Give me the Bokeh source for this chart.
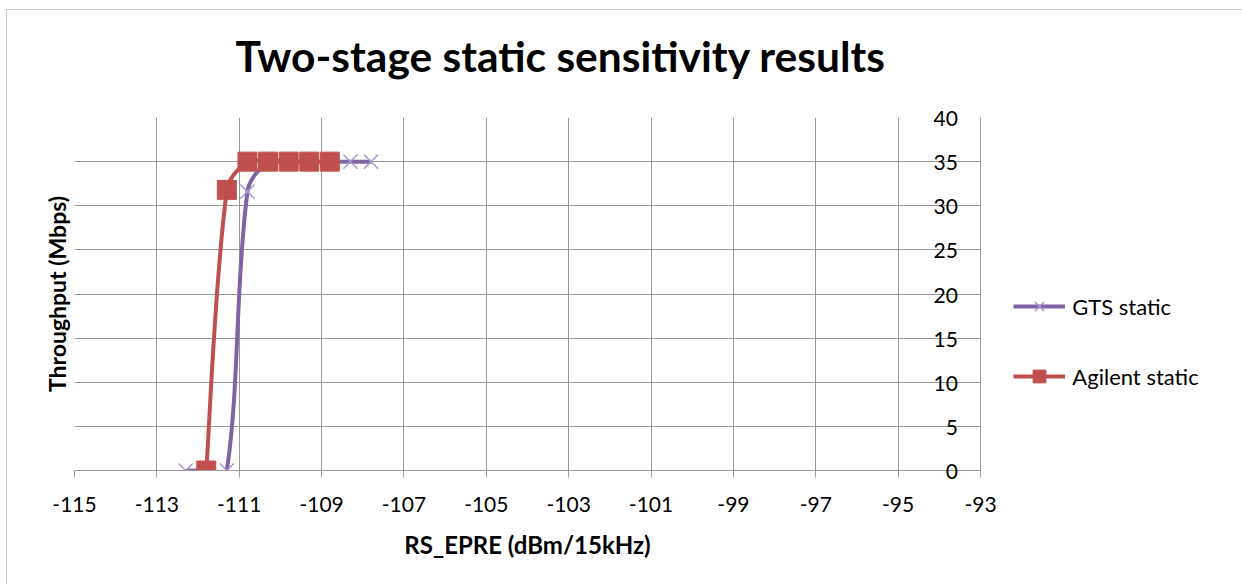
import math
from bokeh.plotting import figure
from bokeh.models import LinearAxis, Range1d, FixedTicker, Legend, LegendItem, CustomJSTickFormatter
from bokeh.embed import file_html
from bokeh.resources import INLINE

# ---- data ----
gts_x = [-112.3, -111.8, -111.3, -110.8, -110.3, -109.8, -109.3, -108.8, -108.3, -107.8]
gts_y = [0, 0, 0, 31.6, 35, 35, 35, 35, 35, 35]
agilent_x = [-111.8, -111.3, -110.8, -110.3, -109.8, -109.3, -108.8]
agilent_y = [0, 31.8, 35, 35, 35, 35, 35]
x_ticks = list(range(-115, -92, 2))
y_ticks = list(range(0, 41, 5))
series_names = ["GTS static", "Agilent static"]

FONT = "Lato"
PURPLE = "#7F63A2"
PURPLE_LIGHT = "#A897CF"
RED = "#C0504D"
GRID = "#999999"

FW, FH = 906, 353
X0, X1, Y0, Y1 = -115, -93, 0, 40
PX = FW / (X1 - X0)
PY = FH / (Y1 - Y0)


def smooth_segments(xs, ys, s=1 / 3):
    """Excel-like smoothed line as cubic Bezier segments (control points from the data)."""
    n = len(xs)

    def dist(i, j):
        return math.hypot((xs[j] - xs[i]) * PX, (ys[j] - ys[i]) * PY)

    before, after = [], []
    for i in range(n):
        if i == 0:
            tx, ty = xs[1] - xs[0], ys[1] - ys[0]
            before.append((xs[i], ys[i]))
            after.append((xs[i] + tx * s * 0.5, ys[i] + ty * s * 0.5))
        elif i == n - 1:
            tx, ty = xs[i] - xs[i - 1], ys[i] - ys[i - 1]
            before.append((xs[i] - tx * s * 0.5, ys[i] - ty * s * 0.5))
            after.append((xs[i], ys[i]))
        else:
            a, b = dist(i - 1, i), dist(i, i + 1)
            tx, ty = xs[i + 1] - xs[i - 1], ys[i + 1] - ys[i - 1]
            before.append((xs[i] - tx * s * a / (a + b), ys[i] - ty * s * a / (a + b)))
            after.append((xs[i] + tx * s * b / (a + b), ys[i] + ty * s * b / (a + b)))
    seg = dict(x0=[], y0=[], x1=[], y1=[], cx0=[], cy0=[], cx1=[], cy1=[])
    for i in range(n - 1):
        seg["x0"].append(xs[i]); seg["y0"].append(ys[i])
        seg["x1"].append(xs[i + 1]); seg["y1"].append(ys[i + 1])
        seg["cx0"].append(after[i][0]); seg["cy0"].append(after[i][1])
        seg["cx1"].append(before[i + 1][0]); seg["cy1"].append(before[i + 1][1])
    return seg


p = figure(
    frame_width=FW, frame_height=FH,
    min_border_left=67, min_border_right=253, min_border_top=107, min_border_bottom=114,
    x_range=Range1d(X0, X1), y_range=Range1d(Y0, Y1),
    y_axis_location="right",
    output_backend="svg", toolbar_location=None,
    title="Two-stage static sensitivity results",
)
p.styles = {"border-left": "1px solid #c8c8c8", "border-top": "1px solid #c8c8c8",
            "margin-left": "6px", "margin-top": "9px"}
p.outline_line_color = None
p.background_fill_color = "white"
p.border_fill_color = "white"

xa = p.below[0]
ya = p.right[0]

# title
p.title.text_font = FONT
p.title.text_font_style = "bold"
p.title.text_font_size = "42.5px"
p.title.align = "left"
p.title.offset = 161
p.title.standoff = 10
p.title.text_color = "black"

# invisible spacer axis between title and plot area (keeps the title high)
spacer = LinearAxis(
    ticker=FixedTicker(ticks=[x_ticks[0]]),
    formatter=CustomJSTickFormatter(code="return '';"),
    axis_line_color=None, major_tick_line_color=None, minor_tick_line_color=None,
    major_tick_out=32, major_tick_in=0, minor_tick_out=0, minor_tick_in=0,
    major_label_standoff=0, major_label_text_font_size="0px",
)
p.add_layout(spacer, "above")

# x axis
xa.ticker = FixedTicker(ticks=x_ticks)
xa.formatter = CustomJSTickFormatter(code="return tick.toString();")
xa.axis_label = "RS_EPRE (dBm/15kHz)"
xa.axis_label_text_font = FONT
xa.axis_label_text_font_style = "bold"
xa.axis_label_text_font_size = "24px"
xa.axis_label_text_color = "black"
xa.axis_label_standoff = 15
xa.major_label_text_font = FONT
xa.major_label_text_font_size = "21px"
xa.major_label_text_color = "black"
xa.major_label_standoff = 19
xa.major_tick_out = 7
xa.major_tick_in = 0
xa.minor_tick_out = 0
xa.minor_tick_in = 0
xa.axis_line_color = GRID
xa.major_tick_line_color = GRID

# right y axis (labels drawn just inside the axis line)
ya.ticker = FixedTicker(ticks=y_ticks)
ya.formatter = CustomJSTickFormatter(code="return (tick < 10 ? '\\u2007' : '') + tick.toString();")
ya.major_label_text_font = FONT
ya.major_label_text_font_size = "21px"
ya.major_label_text_color = "black"
ya.major_label_standoff = -47
ya.major_tick_out = 0
ya.major_tick_in = 0
ya.minor_tick_out = 0
ya.minor_tick_in = 0
ya.axis_line_color = GRID

# left axis only for the title
left = LinearAxis(
    ticker=FixedTicker(ticks=[]),
    axis_label="Throughput (Mbps)",
    axis_label_text_font=FONT,
    axis_label_text_font_style="bold",
    axis_label_text_font_size="23px",
    axis_label_text_color="black",
    axis_label_standoff=4,
    axis_line_color=None,
    major_tick_line_color=None,
    minor_tick_line_color=None,
    major_label_text_font_size="0px",
)
p.add_layout(left, "left")

p.xgrid.ticker = FixedTicker(ticks=x_ticks)
p.ygrid.ticker = FixedTicker(ticks=y_ticks)
p.xgrid.grid_line_color = GRID
p.ygrid.grid_line_color = GRID

# GTS static
g = smooth_segments(gts_x, gts_y)
g_line = p.bezier(x0=g["x0"], y0=g["y0"], x1=g["x1"], y1=g["y1"], cx0=g["cx0"], cy0=g["cy0"],
                  cx1=g["cx1"], cy1=g["cy1"], line_color=PURPLE, line_width=4)
g_sc = p.scatter(gts_x, gts_y, marker="x", size=20, line_color=PURPLE_LIGHT, line_width=1.5)

# Agilent static
a = smooth_segments(agilent_x, agilent_y)
a_line = p.bezier(x0=a["x0"], y0=a["y0"], x1=a["x1"], y1=a["y1"], cx0=a["cx0"], cy0=a["cy0"],
                  cx1=a["cx1"], cy1=a["cy1"], line_color=RED, line_width=4)
a_sc = p.scatter(agilent_x, agilent_y, marker="square", size=19, fill_color=RED, line_color=RED)

legend = Legend(
    items=[LegendItem(label=series_names[0], renderers=[g_line, g_sc]),
           LegendItem(label=series_names[1], renderers=[a_line, a_sc])],
    location=(-191, 78),
    glyph_width=52, glyph_height=32, label_height=32,
    label_standoff=7, spacing=38, padding=0, margin=0,
    label_text_font=FONT, label_text_font_size="22px", label_text_color="black",
    border_line_color=None, background_fill_alpha=0,
)
p.add_layout(legend, "right")

open("out.html", "w").write(file_html(p, INLINE))
